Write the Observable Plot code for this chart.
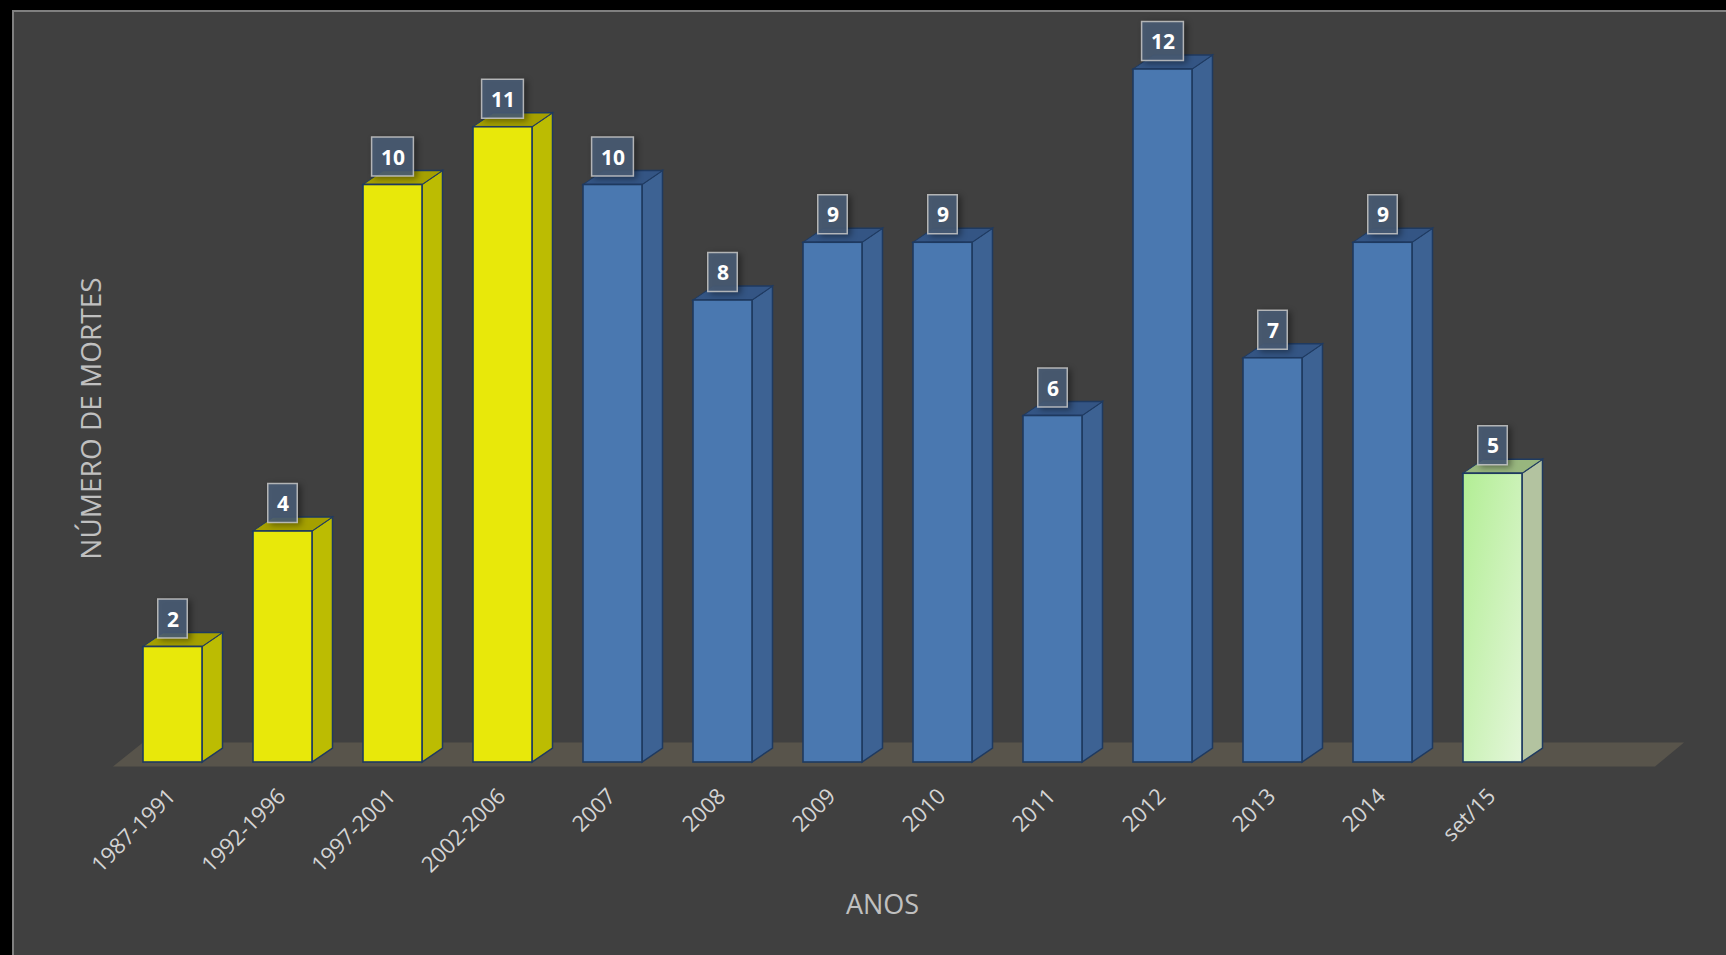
<!DOCTYPE html>
<html><head><meta charset="utf-8">
<script src="https://cdn.jsdelivr.net/npm/d3@7"></script>
<script src="https://cdn.jsdelivr.net/npm/@observablehq/plot@0.6"></script>
<style>
html,body{margin:0;padding:0;background:#000;width:1726px;height:955px;overflow:hidden;}
#panel{position:absolute;left:12px;top:10px;width:1714px;height:945px;background:#404040;border-top:2px solid #808080;border-left:2px solid #808080;box-sizing:border-box;}
#chart{position:absolute;left:0;top:0;}
</style></head><body>
<div id="panel"></div><div id="chart"></div>
<script>
// ---- data ----
const categories = ["1987-1991","1992-1996","1997-2001","2002-2006","2007","2008","2009","2010","2011","2012","2013","2014","set/15"];
const values = [2,4,10,11,10,8,9,9,6,12,7,9,5];
const groups = ["periodo","periodo","periodo","periodo","ano","ano","ano","ano","ano","ano","ano","ano","parcial"];
const titleX = "ANOS";
const titleY = "NÚMERO DE MORTES";

// ---- styles ----
const palette = {
  periodo: {front: "#e8e80a", side: "#bcbc02", top: "#a5a000"},
  ano:     {front: "#4a78b0", side: "#3d6293", top: "#345584"},
  parcial: {front: "url(#greenFront)", side: "#b3c3a0", top: "#98b67e"}
};
const outline = "#1f3a60";
const DX = 20.5, DY = 14;

const data = categories.map((c, i) => ({cat: c, v: values[i], g: groups[i]}));

const chart = Plot.plot({
  width: 1726, height: 955,
  marginLeft: 92, marginRight: 152, marginTop: 69, marginBottom: 193,
  x: {domain: categories, padding: 0.46},
  y: {domain: [0, 12], axis: null},
  color: {type: "identity"},
  style: {background: "transparent", fontFamily: "'Open Sans', sans-serif", overflow: "visible", color: "#d4d4d4"},
  marks: [
    Plot.barY(data, {x: "cat", y: "v", fill: d => palette[d.g].side, stroke: outline, strokeWidth: 1.5}),
    Plot.barY(data, {x: "cat", y: "v", fill: d => palette[d.g].top, stroke: outline, strokeWidth: 1.5}),
    Plot.barY(data, {x: "cat", y: "v", fill: d => palette[d.g].front, stroke: outline, strokeWidth: 1.6}),
    Plot.barY(data.filter(d => d.v < 10), {x: "cat", y1: "v", y2: "v", insetLeft: 14.75, insetRight: 14.75, insetTop: -47.5, insetBottom: 8.5,
      fill: "#4a5d76", fillOpacity: 0.88, stroke: "#c8c8c8", strokeOpacity: 0.85, strokeWidth: 1.5}),
    Plot.barY(data.filter(d => d.v >= 10), {x: "cat", y1: "v", y2: "v", insetLeft: 8.6, insetRight: 8.6, insetTop: -47.5, insetBottom: 8.5,
      fill: "#4a5d76", fillOpacity: 0.88, stroke: "#c8c8c8", strokeOpacity: 0.85, strokeWidth: 1.5}),
    Plot.text(data, {x: "cat", y: "v", text: d => String(d.v), dy: -27, fill: "#ffffff", fontWeight: "bold", fontSize: 21}),
    Plot.axisX({tickRotate: -45, tickSize: 0, tickPadding: 30, dx: -1, fontSize: 22, label: null}),
    Plot.text([titleX], {text: d => d, frameAnchor: "bottom", textAnchor: "middle", lineAnchor: "middle", dx: 49, dy: 143, fontSize: 27, fill: "#c0c0c0"}),
    Plot.text([titleY], {text: d => d, frameAnchor: "left", textAnchor: "middle", lineAnchor: "middle", rotate: -90, dx: 0, dy: 2.5, fontSize: 28, fill: "#c0c0c0"})
  ]
});
document.getElementById("chart").appendChild(chart);

// ---- 3D decoration (post-processing of the Plot marks) ----
const svg = d3.select(chart);
const defs = svg.insert("defs", ":first-child");
const g = defs.append("linearGradient").attr("id", "greenFront").attr("x1", 0).attr("y1", 0).attr("x2", 1).attr("y2", 1);
g.append("stop").attr("offset", "0%").attr("stop-color", "#b2ee94");
g.append("stop").attr("offset", "100%").attr("stop-color", "#e4f6da");

// floor
const xs = chart.scale("x"), ys = chart.scale("y");
const y0 = ys.apply(0);
const fl = xs.range[0] + 21, fr = xs.range[1] + 81;
svg.insert("polygon", "defs + *")
  .attr("points", `${fl},${y0 + 4.5} ${fr},${y0 + 4.5} ${fr + 29},${y0 - 19.5} ${fl + 30},${y0 - 19.5}`)
  .attr("fill", "#58544b");

const barGroups = svg.selectAll('g[aria-label="bar"]').nodes();
// side faces
d3.select(barGroups[0]).selectAll("rect").each(function () {
  const r = d3.select(this);
  const x = +r.attr("x"), w = +r.attr("width");
  const k = DX / w;
  r.attr("transform", `matrix(${k},${-DY / w},0,1,${x + w - x * k},${DY * x / w})`)
   .attr("vector-effect", "non-scaling-stroke");
});
// top faces
d3.select(barGroups[1]).selectAll("rect").each(function () {
  const r = d3.select(this);
  const y = +r.attr("y");
  r.attr("y", y - DY).attr("height", DY)
   .attr("transform", `matrix(1,0,${-DX / DY},1,${y * DX / DY},0)`);
});
// label boxes shadow
[barGroups[3], barGroups[4]].forEach(n => d3.select(n).style("filter", "drop-shadow(3px 2px 3px rgba(0,0,0,0.45))"));
</script>
</body></html>
